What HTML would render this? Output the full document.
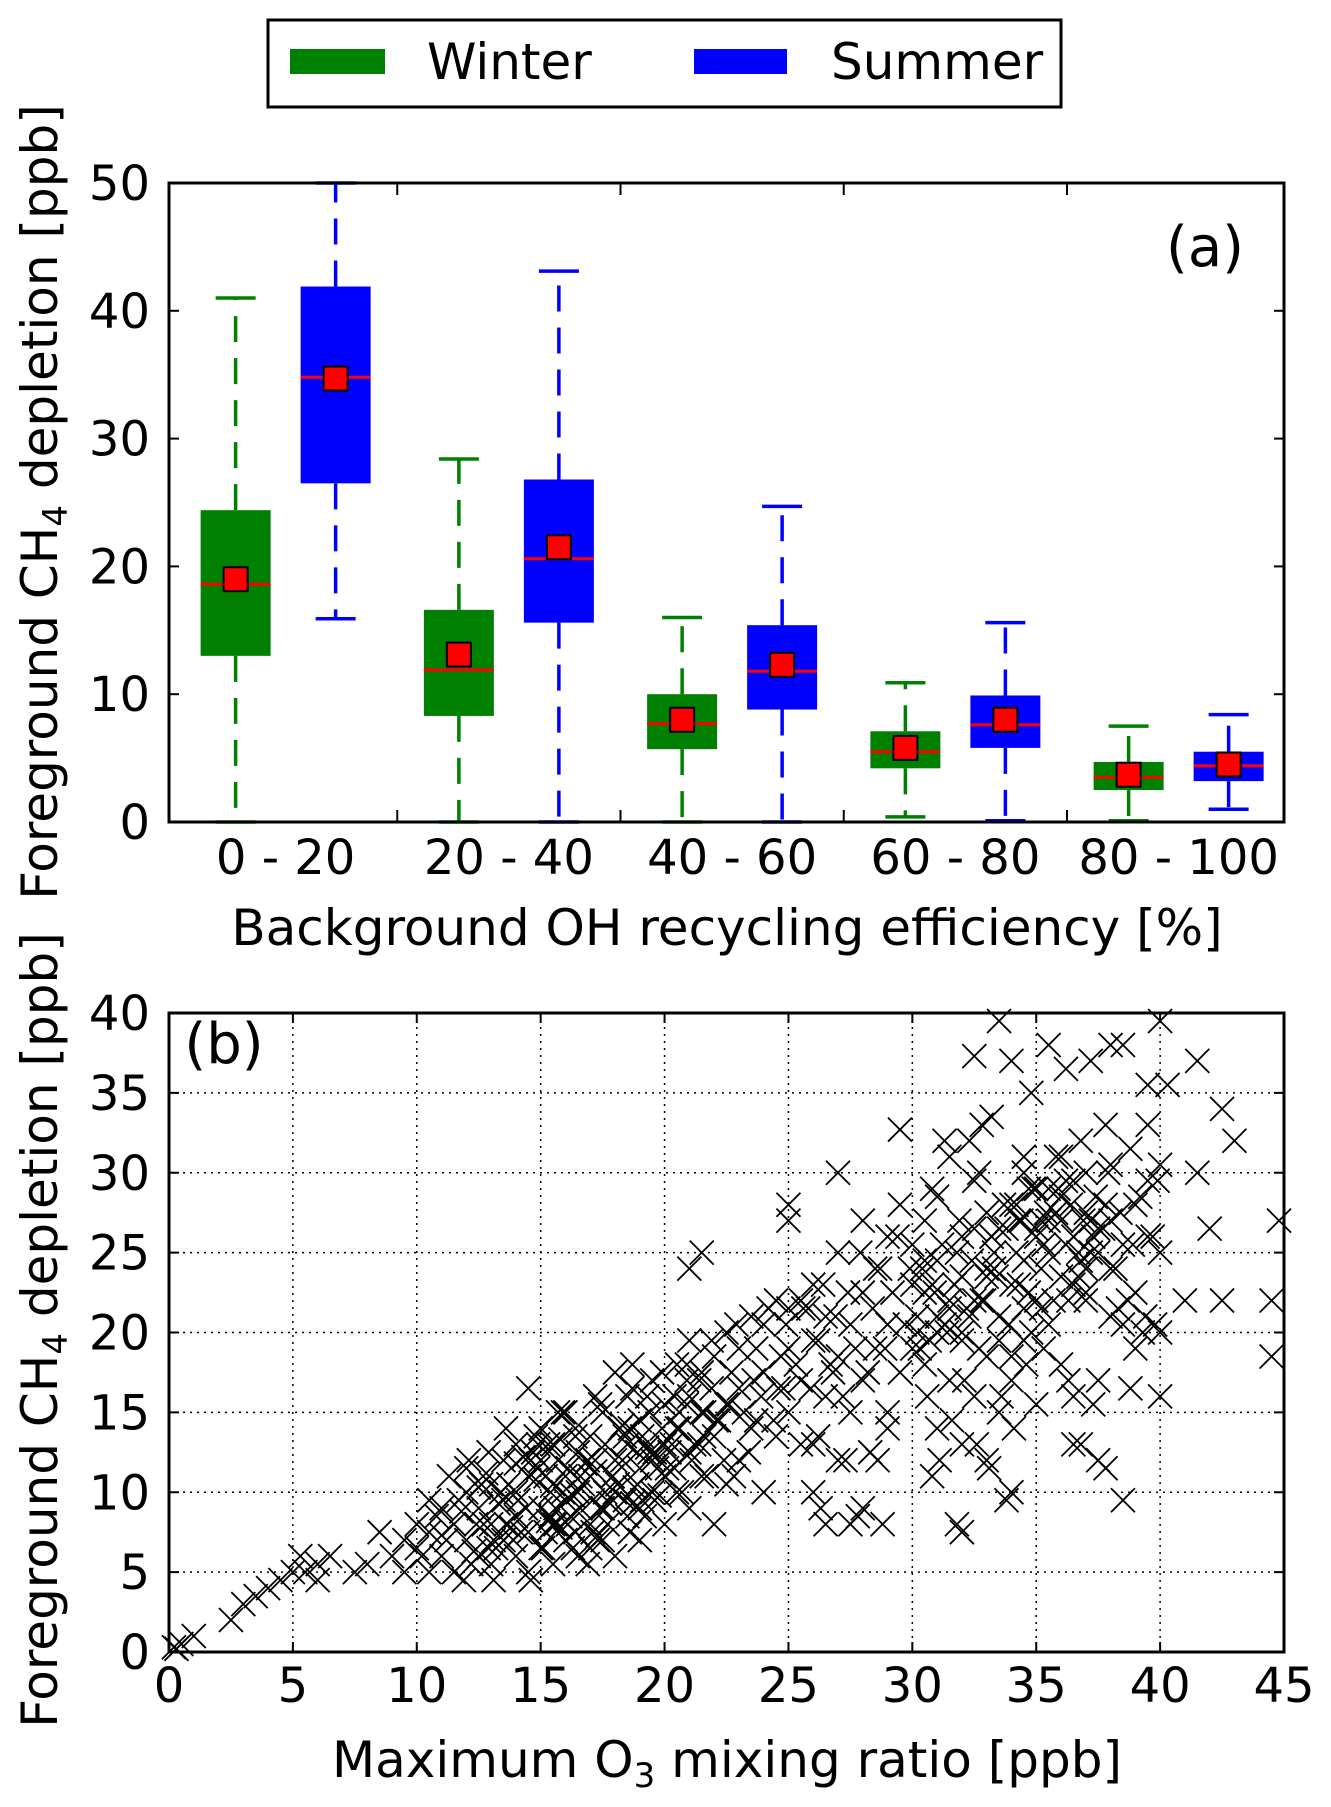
<!DOCTYPE html>
<html><head><meta charset="utf-8"><style>
html,body{margin:0;padding:0;background:#fff}
svg{display:block;font-family:"DejaVu Sans","Liberation Sans",sans-serif}
</style></head><body>
<svg id="fig" width="1331" height="1807" viewBox="0 0 1331 1807" xmlns="http://www.w3.org/2000/svg">
<g>
<rect x="268" y="20" width="793" height="87" fill="#fff" stroke="#000" stroke-width="3"/>
<rect x="290" y="49" width="95" height="25" fill="#008000"/>
<text x="427" y="79" font-size="50">Winter</text>
<rect x="694" y="49" width="93" height="25" fill="#0000ff"/>
<text x="831" y="79" font-size="50">Summer</text>
</g>
<g id="pa"></g>
<g id="pb"></g>
</svg>
<script>
const groups=["0 - 20","20 - 40","40 - 60","60 - 80","80 - 100"];
const wLo=[0,0,0,0.4,0.1], wQ1=[13,8.3,5.7,4.2,2.5], wMed=[18.6,11.9,7.7,5.5,3.5], wQ3=[24.4,16.6,10,7.1,4.7], wHi=[41,28.4,16,10.9,7.5], wMean=[19,13.1,8,5.8,3.7];
const sLo=[15.9,0,0,0.1,1], sQ1=[26.5,15.6,8.8,5.8,3.2], sMed=[34.8,20.6,11.8,7.6,4.4], sQ3=[41.9,26.8,15.4,9.9,5.5], sHi=[50,43.1,24.7,15.6,8.4], sMean=[34.7,21.5,12.3,8,4.5];
const aTicks=[0,10,20,30,40,50];
const bXTicks=[0,5,10,15,20,25,30,35,40,45];
const bYTicks=[0,5,10,15,20,25,30,35,40];
const ptsX=[0.2,0.5,0.3,1,2.5,3,3.5,4,4.5,5,5.3,5.5,6,6,6.5,7.5,8,8.5,9,9.5,9.5,10,10,10.5,
10.5,11,11,11.5,11.5,12,12,12,12.5,12.5,13,13,13,13.5,13.5,13.5,14,14,14,14,14.5,14.5,14.5,14.5,15,15,15,15,15.5,15.5,15.5,15.5,16,16,16,16,16.5,16.5,16.5,17,17,17,17,17.5,17.5,17.5,18,18,18,18,18.5,18.5,18.5,19,19,19,19,19.5,19.5,19.5,20,20,20,20,
11.8,12.3,12.8,13.3,13.8,14.3,14.8,15.3,15.8,16.3,16.8,17.3,17.8,18.3,18.8,19.3,19.8,11,12.5,14,15.8,17.2,18.7,
20.5,20.5,20.5,21,21,21,21,21.5,21.5,21.5,22,22,22,22.5,22.5,22.5,23,23,23,23.5,23.5,24,24,24,24.5,24.5,25,25,25,21,21.5,20.3,22.8,23.7,24.8,
25.5,25.5,26,26,26,26.5,26.5,27,27,27,27.5,27.5,28,28,28,28.5,28.5,29,29,29,29.5,29.5,30,30,30,25,25,27,29.5,26.3,27.8,28.8,26.8,27.3,25.8,
30.5,30.5,30.5,31,31,31,31,31.5,31.5,31.5,32,32,32,32,32.5,32.5,32.5,33,33,33,33,33.5,33.5,33.5,34,34,34,34,34.5,34.5,34.5,35,35,35,35,
33.5,34,32.5,35.5,32,33.8,31.8,30.8,32.8,34.8,31.3,33.3,34.3,30.2,35.2,
35.5,35.5,35.5,36,36,36,36,36.5,36.5,36.5,37,37,37,37,37.5,37.5,38,38,38,38.5,38.5,38.5,39,39,39,39.5,39.5,39.5,40,40,40,38.5,38,40,39.5,36.2,37.2,36.8,
41.5,42.5,43,41.5,42,41,42.5,44.5,44.5,44.8,40,40.3,39.8,38.8,37.8,
10.2,10.8,11.2,11.7,12.2,12.7,13.2,13.7,14.2,14.7,10.5,11.3,12.1,12.9,13.6,14.4,14.8,11.9,13.1,14.6,
15.2,15.4,15.7,15.9,16.2,16.4,16.7,16.9,17.2,17.4,17.7,17.9,18.2,18.4,18.7,18.9,19.2,19.4,19.7,19.9,15.2,16.1,17.1,18.1,19.1,15.6,16.6,17.6,18.6,19.6,15.3,16.3,17.3,18.3,19.3,
20.2,20.4,20.7,20.9,21.2,21.4,21.7,21.9,22.2,22.4,22.7,22.9,23.2,23.4,23.7,23.9,24.2,24.4,24.7,24.9,20.6,21.6,22.6,23.6,24.6,26,26.5,27.5,28,
25.3,25.6,25.9,26.2,26.4,26.7,26.9,27.2,27.4,27.7,27.9,28.2,28.4,28.7,28.9,29.2,29.4,29.7,29.9,25.5,26.2,28.3,28.6,29,
30.2,30.4,30.7,30.9,31.2,31.4,31.7,31.9,32.2,32.4,32.7,32.9,33.2,33.4,33.7,33.9,34.2,34.4,34.7,34.9,30.6,31.6,32.6,33.6,34.6,31.1,32.1,33.1,34.1,32.3,33.2,34.5,30.8,
35.2,35.4,35.7,35.9,36.2,36.4,36.7,36.9,37.2,37.4,37.7,37.9,38.2,38.4,38.7,38.9,39.2,39.4,39.7,39.9,35.3,36.3,37.3,38.3,39.3,36.5,37.5,35.8,36.8,37.8,38.8,
12.4,12.9,13.4,13.9,14.4,14.9,15.4,15.9,16.4,16.9,17.4,17.9,18.4,18.9,19.4,19.9,20.4,20.9,21.4,21.9,12.6,13.6,14.6,15.6,16.6,17.6,18.6,19.6,20.6,21.6,13.1,14.1,15.1,16.1,17.1,18.1,19.1,20.1,21.1,22.1,14.9,16.4,17.9,19.4,20.9,15.7,17.2,18.7,
30.3,30.8,31.3,31.8,32.3,32.8,33.3,33.8,34.3,34.8,35.3,35.8,36.3,36.8,37.3,37.8,30.5,31.5,32.5,33.5,34.5,35.5,36.5,37.5,31,32,33,34,35,36,37,38,33.2,34.2,35.2,36.2,37.2,32.7,34.7,36.7];
const ptsY=[0.3,0.5,0.2,1,2,3,3.5,4,4.5,5,6,5,5.5,4.5,6,5,5.5,7.5,6,5,7,8,6.5,5,
7.5,9,6,8,5,7,10,11.5,6,9,8,10.5,5.5,7,12,9.5,6,10,13,8.5,11,7.5,5,16.5,9,12,6.5,14,8,10.5,13,5.5,7,11,15,9.5,6,12.5,10,8,13.5,6.5,11,9,15,7,10,12,17.5,6,8.5,13,16,9,11.5,7,14.5,10,12,17,8,15.5,11,13,
8.8,6.3,11.2,9.3,7.8,12.2,10.8,8.2,13.3,9.8,11.8,7.3,9.3,14.2,10.3,12.8,9.8,7.3,10.3,11.8,7.8,11.3,9.3,
10,14,18,9,12.5,16,19.5,11,15,17.5,8,13.5,18.5,10.5,15.5,20,12,16.5,19,14,21,10,17.5,20.5,13.5,22,15,19,21.5,24,25,13,11,14.5,16.5,
17,22,13,19.5,23,16,21,12,18.5,25,20.5,15,17,22.5,27,19,24,14,20.5,26,17.5,28,23,19,25.5,28,27,30,32.7,9,8.5,8,17.5,12,21.5,
18,22.5,27,14,20,24.5,28.5,17,21.5,31,13,19.5,23.5,26,16,22,29.5,12,18.5,24,27.5,15,21,26.5,10,17,23,28,19.5,24.5,30,15.5,22,26.5,29,
39.5,37,37.3,38,7.5,9.5,8,11,33,35,32,25,27,20,27,
20.5,25,29,18,23.5,27,31,16,26,29.5,22,27.5,30,24,26.5,17,21,27,30.5,9.5,20.5,25.5,22.5,28,19,26,29.5,33,25,30.5,20,38,38,39.5,35.5,36.5,37,13,
37,34,32,30,26.5,22,22,22,18.5,27,16,35.5,20.5,16.5,11.5,
6,8.5,7,9.5,5.5,8,6.5,10.5,7.5,12.5,9.5,11,12,12.5,14,9,13.5,4.5,4.5,4.5,
7.5,10,12,15,8.5,13.5,10.5,5.5,12,15.5,8,11,14,9.5,16.5,12.5,8.5,15,11.5,17.5,11,11.5,9.5,10.5,13.5,8,9,13,7.5,9.5,13,6.5,7,12,16,
12.5,16,10,18,13,17,11,19.5,14.5,12,17.5,20.5,15,12.5,19,16,21.5,14.5,18.5,20.5,14,15,15.5,17,16.5,10,8,8,9,
18,21.5,16.5,19.5,23,18,21,16,22.5,19,25,17.5,21.5,24,19,22.5,26,20.5,24,13,13.5,12.5,12,15,
21,24,19.5,22.5,25.5,20,23,27,21.5,24.5,19,22,26,23.5,28,20.5,25,27,22.5,29,16,14.5,13,16,18,12,17,11.5,14,32,33.5,31,29,
24,27.5,22,29,25.5,28,23.5,27,25,28.5,26.5,30,24,27.5,22,25.5,28.5,21,26,29.5,19,17,15.5,21.5,20,13,12,31,32,33,31.5,
8,6.5,10,7,9,11.5,8.5,10,7.5,12,9,11,13.5,10.5,12.5,14,11.5,15.5,13,16.5,10.5,8,12,9,11,10,14,12.5,15,13.5,7,9.5,6.5,8,7.5,10.5,9.5,11.5,12,14.5,13,14,11,15,17,15,16,18,
19,23,20.5,25,21,22,24,26.5,23,20,25.5,27.5,22,24.5,26,28,24.5,22,26.5,19.5,21.5,27,23,25,21,20,23.5,18.5,26,28.5,22.5,24,26,28,21.5,29.5,27,30,29,25];
</script>
<script>
const NS="http://www.w3.org/2000/svg";
function mk(parent,tag,attrs,name){const e=document.createElementNS(NS,tag);for(const k in attrs)e.setAttribute(k,attrs[k]);


parent.appendChild(e);return e;}
// Panel A
const pa=document.getElementById('pa');
const AL=169,AR=1284,AT=183,AB=822;
const ay=v=>AB-(v/50)*(AB-AT);
const gw=223.25, g0=174;
const gc=i=>g0+gw*(i+0.5);
aTicks.forEach(t=>{
  mk(pa,'line',{x1:AL,x2:AL+10,y1:ay(t),y2:ay(t),stroke:'#000','stroke-width':2},'y-tick');
  mk(pa,'line',{x1:AR,x2:AR-10,y1:ay(t),y2:ay(t),stroke:'#000','stroke-width':2},'y-tick-right');
  const tx=mk(pa,'text',{x:150,y:ay(t)+17,'font-size':48,'text-anchor':'end'},'y-tick-label');tx.textContent=t;
});
for(let i=1;i<groups.length;i++){const x=g0+gw*i;
  mk(pa,'line',{x1:x,x2:x,y1:AB,y2:AB-12,stroke:'#000','stroke-width':2},'x-tick');
  mk(pa,'line',{x1:x,x2:x,y1:AT,y2:AT+12,stroke:'#000','stroke-width':2},'x-tick-top');}
groups.forEach((g,i)=>{const t=mk(pa,'text',{x:gc(i),y:874,'font-size':48,'text-anchor':'middle'},'x-tick-label');t.textContent=g;});
function box(i,off,col,lo,q1,med,q3,hi,mean,name){
  const cx=gc(i)+off,w=70,cw=40;
  const g=mk(pa,'g',{},name);
  mk(g,'line',{x1:cx,x2:cx,y1:ay(q3),y2:ay(hi),stroke:col,'stroke-width':3.5,'stroke-dasharray':'26,16'},'whisker-upper');
  mk(g,'line',{x1:cx,x2:cx,y1:ay(q1),y2:ay(lo),stroke:col,'stroke-width':3.5,'stroke-dasharray':'26,16'},'whisker-lower');
  mk(g,'line',{x1:cx-cw/2,x2:cx+cw/2,y1:ay(hi),y2:ay(hi),stroke:col,'stroke-width':3.5},'cap-upper');
  mk(g,'line',{x1:cx-cw/2,x2:cx+cw/2,y1:ay(lo),y2:ay(lo),stroke:col,'stroke-width':3.5},'cap-lower');
  mk(g,'rect',{x:cx-w/2,y:ay(q3),width:w,height:ay(q1)-ay(q3),fill:col},'box');
  mk(g,'line',{x1:cx-w/2,x2:cx+w/2,y1:ay(med),y2:ay(med),stroke:'#ff0000','stroke-width':3},'median');
  mk(g,'rect',{x:cx-12,y:ay(mean)-12,width:24,height:24,fill:'#ff0000',stroke:'#000','stroke-width':2},'mean-marker');
}
groups.forEach((g,i)=>{
  box(i,-50,'#008000',wLo[i],wQ1[i],wMed[i],wQ3[i],wHi[i],wMean[i],'winter-box-'+(i+1));
  box(i,50,'#0000ff',sLo[i],sQ1[i],sMed[i],sQ3[i],sHi[i],sMean[i],'summer-box-'+(i+1));
});
mk(pa,'rect',{x:AL,y:AT,width:AR-AL,height:AB-AT,fill:'none',stroke:'#000','stroke-width':3},'axes-frame');
let t=mk(pa,'text',{x:1205,y:266,'font-size':56,'text-anchor':'middle'},'panel-a-label');t.textContent='(a)';
t=mk(pa,'text',{x:727,y:945,'font-size':50,'text-anchor':'middle'},'x-axis-title');t.textContent='Background OH recycling efficiency [%]';
t=mk(pa,'text',{x:0,y:0,'font-size':50,'text-anchor':'middle',transform:'translate(57,502) rotate(-90)'},'y-axis-title');
t.innerHTML='Foreground CH<tspan font-size="34" dy="10">4</tspan><tspan dy="-10"> depletion [ppb]</tspan>';
// Panel B
const pb=document.getElementById('pb');
const BL=169,BR=1284,BT=1013,BB=1652;
const bx=v=>BL+(v/45)*(BR-BL), by=v=>BB-(v/40)*(BB-BT);
bXTicks.forEach(v=>{
  if(v>0&&v<45)mk(pb,'line',{x1:bx(v),x2:bx(v),y1:BT,y2:BB,stroke:'#000','stroke-width':1.5,'stroke-dasharray':'2,5'},'x-grid-line');
  mk(pb,'line',{x1:bx(v),x2:bx(v),y1:BB,y2:BB-10,stroke:'#000','stroke-width':2},'x-tick');
  mk(pb,'line',{x1:bx(v),x2:bx(v),y1:BT,y2:BT+10,stroke:'#000','stroke-width':2},'x-tick-top');
  const tx=mk(pb,'text',{x:bx(v),y:1702,'font-size':48,'text-anchor':'middle'},'x-tick-label');tx.textContent=v;
});
bYTicks.forEach(v=>{
  if(v>0&&v<40)mk(pb,'line',{x1:BL,x2:BR,y1:by(v),y2:by(v),stroke:'#000','stroke-width':1.5,'stroke-dasharray':'2,5'},'y-grid-line');
  mk(pb,'line',{x1:BL,x2:BL+10,y1:by(v),y2:by(v),stroke:'#000','stroke-width':2},'y-tick');
  mk(pb,'line',{x1:BR,x2:BR-10,y1:by(v),y2:by(v),stroke:'#000','stroke-width':2},'y-tick-right');
  const tx=mk(pb,'text',{x:150,y:by(v)+17,'font-size':48,'text-anchor':'end'},'y-tick-label');tx.textContent=v;
});
const sg=mk(pb,'g',{stroke:'#000','stroke-width':1.8,fill:'none'},'scatter-points');
ptsX.forEach((x,i)=>{const y=ptsY[i];if(y===undefined)return;const px=bx(x),py=by(y),r=12;
  mk(sg,'path',{d:`M${px-r},${py-r}L${px+r},${py+r}M${px-r},${py+r}L${px+r},${py-r}`},'scatter-point');});
mk(pb,'rect',{x:BL,y:BT,width:BR-BL,height:BB-BT,fill:'none',stroke:'#000','stroke-width':3},'axes-frame');
t=mk(pb,'text',{x:224,y:1063,'font-size':56,'text-anchor':'middle'},'panel-b-label');t.textContent='(b)';
t=mk(pb,'text',{x:727,y:1777,'font-size':50,'text-anchor':'middle'},'x-axis-title');
t.innerHTML='Maximum O<tspan font-size="34" dy="10">3</tspan><tspan dy="-10"> mixing ratio [ppb]</tspan>';
t=mk(pb,'text',{x:0,y:0,'font-size':50,'text-anchor':'middle',transform:'translate(57,1330) rotate(-90)'},'y-axis-title');
t.innerHTML='Foreground CH<tspan font-size="34" dy="10">4</tspan><tspan dy="-10"> depletion [ppb]</tspan>';
</script>
</body></html>
